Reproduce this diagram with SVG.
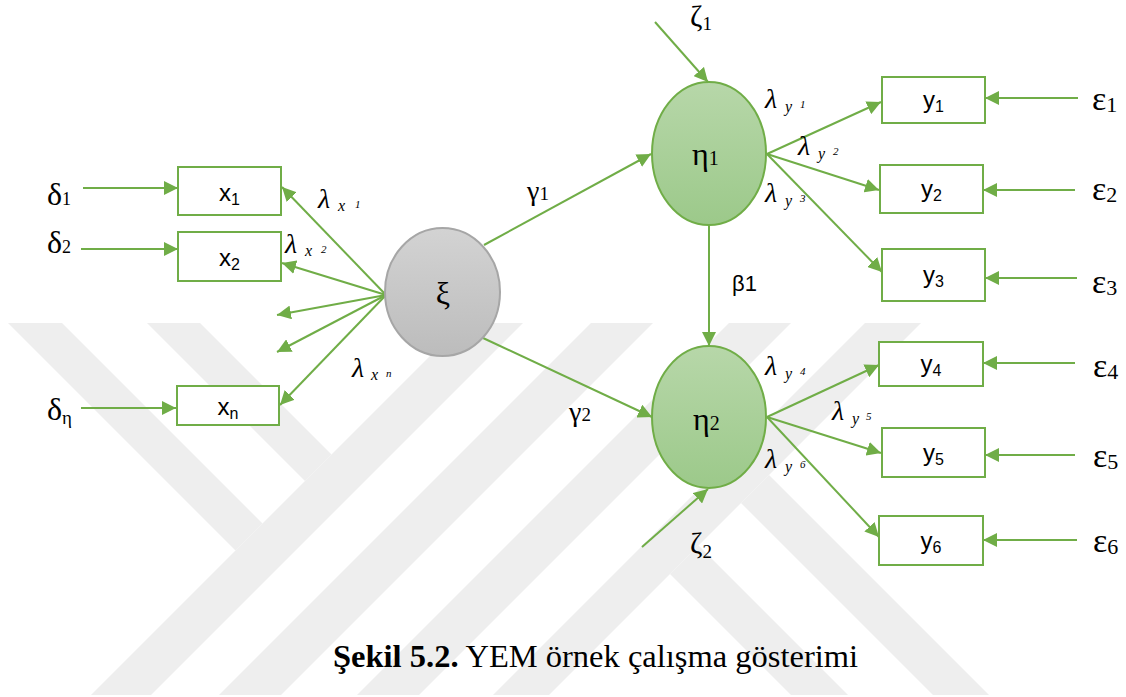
<svg xmlns="http://www.w3.org/2000/svg" width="1126" height="697" viewBox="0 0 1126 697">
  <defs>
    <marker id="arrow" markerUnits="userSpaceOnUse" markerWidth="14" markerHeight="14" refX="14" refY="7" orient="auto">
      <path d="M0,0 L14,7 L0,14 Z" fill="#70ad47"/>
    </marker>
    <linearGradient id="gGreen" x1="0" y1="0" x2="0" y2="1">
      <stop offset="0" stop-color="#b7d7a9"/>
      <stop offset="1" stop-color="#9cc98a"/>
    </linearGradient>
    <linearGradient id="gGrey" x1="0" y1="0" x2="0" y2="1">
      <stop offset="0" stop-color="#d3d3d3"/>
      <stop offset="1" stop-color="#bcbcbc"/>
    </linearGradient>
  </defs>
  <style>
    .wm { fill: #eeeeee; }
    .box { fill: #ffffff; stroke: #70ad47; stroke-width: 2; }
    .edge { fill: none; stroke: #70ad47; stroke-width: 2; marker-end: url(#arrow); }
    .latent { fill: url(#gGreen); stroke: #70ad47; stroke-width: 2; }
    .exo { fill: url(#gGrey); stroke: #a6a6a6; stroke-width: 2; }
  </style>

  <rect width="1126" height="697" fill="#ffffff"/>

  <!-- faint background emblem: diagonal bands -->
  <g id="emblem">
    <polygon class="wm" points="8,323 62,323 262.5,523.5 235.5,550.5"/>
    <polygon class="wm" points="147,323 200,323 331.5,454.5 305,481"/>
    <polygon class="wm" points="463,323 523,323 151,695 91,695"/>
    <polygon class="wm" points="591,323 653,323 281,695 219,695"/>
    <polygon class="wm" points="729,323 791,323 419,695 357,695"/>
    <polygon class="wm" points="865,323 921,323 549,695 493,695"/>
    <polygon class="wm" points="670,574 698.5,545.5 848,695 791,695"/>
    <polygon class="wm" points="741,503 769,475 989,695 933,695"/>
  </g>

  <!-- connectors -->
  <g id="connectors">
    <line class="edge" x1="83" y1="188" x2="178" y2="188"/>
    <line class="edge" x1="81" y1="249" x2="178" y2="249"/>
    <line class="edge" x1="81" y1="408" x2="176" y2="408"/>
    <line class="edge" x1="386" y1="295" x2="282" y2="187"/>
    <line class="edge" x1="386" y1="295" x2="282" y2="263"/>
    <line class="edge" x1="386" y1="295" x2="277" y2="315"/>
    <line class="edge" x1="386" y1="295" x2="277" y2="352"/>
    <line class="edge" x1="386" y1="295" x2="280" y2="405"/>
    <line class="edge" x1="484" y1="245" x2="651" y2="154"/>
    <line class="edge" x1="483" y1="338" x2="652" y2="417"/>
    <line class="edge" x1="709" y1="225" x2="709" y2="346"/>
    <line class="edge" x1="655" y1="22" x2="708" y2="82"/>
    <line class="edge" x1="642" y1="547" x2="708" y2="489"/>
    <line class="edge" x1="767" y1="154" x2="881" y2="102"/>
    <line class="edge" x1="767" y1="154" x2="879" y2="190"/>
    <line class="edge" x1="767" y1="154" x2="882" y2="272"/>
    <line class="edge" x1="767" y1="417" x2="879" y2="365"/>
    <line class="edge" x1="767" y1="417" x2="881" y2="453"/>
    <line class="edge" x1="767" y1="417" x2="879" y2="537"/>
    <line class="edge" x1="1078" y1="98" x2="985" y2="98"/>
    <line class="edge" x1="1075" y1="190" x2="983" y2="190"/>
    <line class="edge" x1="1077" y1="278" x2="985" y2="278"/>
    <line class="edge" x1="1075" y1="363" x2="983" y2="363"/>
    <line class="edge" x1="1075" y1="455" x2="985" y2="455"/>
    <line class="edge" x1="1077" y1="540" x2="983" y2="540"/>
  </g>

  <!-- path coefficients -->
  <g id="edge-labels" font-family="'Liberation Serif', 'DejaVu Serif', serif" fill="#000">
    <g font-style="italic">
      <text x="318" y="208"><tspan font-size="28">λ</tspan><tspan font-size="16" x="338" dy="3">x</tspan><tspan font-size="11" x="355" dy="-3">1</tspan></text>
      <text x="285" y="253"><tspan font-size="28">λ</tspan><tspan font-size="16" x="305" dy="3">x</tspan><tspan font-size="11" x="321" dy="-3">2</tspan></text>
      <text x="352" y="377"><tspan font-size="28">λ</tspan><tspan font-size="16" x="371" dy="3">x</tspan><tspan font-size="11" x="386" dy="-3">n</tspan></text>
      <text x="765" y="108"><tspan font-size="28">λ</tspan><tspan font-size="16" x="785" dy="4">y</tspan><tspan font-size="11" x="800" dy="-4">1</tspan></text>
      <text x="798" y="155"><tspan font-size="28">λ</tspan><tspan font-size="16" x="818" dy="4">y</tspan><tspan font-size="11" x="833" dy="-4">2</tspan></text>
      <text x="765" y="202"><tspan font-size="28">λ</tspan><tspan font-size="16" x="785" dy="4">y</tspan><tspan font-size="11" x="800" dy="-4">3</tspan></text>
      <text x="765" y="375"><tspan font-size="28">λ</tspan><tspan font-size="16" x="785" dy="4">y</tspan><tspan font-size="11" x="800" dy="-4">4</tspan></text>
      <text x="832" y="420"><tspan font-size="28">λ</tspan><tspan font-size="16" x="852" dy="4">y</tspan><tspan font-size="11" x="866" dy="-4">5</tspan></text>
      <text x="765" y="468"><tspan font-size="28">λ</tspan><tspan font-size="16" x="785" dy="4">y</tspan><tspan font-size="11" x="800" dy="-4">6</tspan></text>
    </g>
    <text x="527" y="200"><tspan font-size="28">γ</tspan><tspan font-size="19">1</tspan></text>
    <text x="569" y="421"><tspan font-size="28">γ</tspan><tspan font-size="19">2</tspan></text>
    <text x="732" y="291" font-family="'Liberation Sans', Arial, sans-serif" font-size="22">β1</text>
  </g>

  <!-- measurement and structural error terms -->
  <g id="errors" font-family="'Liberation Serif', 'DejaVu Serif', serif" fill="#000">
    <g id="delta1"><text x="47" y="205"><tspan font-size="32">δ</tspan><tspan font-size="18">1</tspan></text></g>
    <g id="delta2"><text x="47" y="253"><tspan font-size="32">δ</tspan><tspan font-size="18">2</tspan></text></g>
    <g id="deltan"><text x="47" y="420"><tspan font-size="32">δ</tspan><tspan font-size="19" dy="4">η</tspan></text></g>
    <g id="eps1"><text x="1092" y="110"><tspan font-size="34">ε</tspan><tspan font-size="22" dy="2">1</tspan></text></g>
    <g id="eps2"><text x="1092" y="200"><tspan font-size="34">ε</tspan><tspan font-size="22" dy="2">2</tspan></text></g>
    <g id="eps3"><text x="1092" y="293"><tspan font-size="34">ε</tspan><tspan font-size="22" dy="2">3</tspan></text></g>
    <g id="eps4"><text x="1093" y="377"><tspan font-size="34">ε</tspan><tspan font-size="22" dy="2">4</tspan></text></g>
    <g id="eps5"><text x="1093" y="467"><tspan font-size="34">ε</tspan><tspan font-size="22" dy="2">5</tspan></text></g>
    <g id="eps6"><text x="1093" y="552"><tspan font-size="34">ε</tspan><tspan font-size="22" dy="2">6</tspan></text></g>
    <g id="zeta1"><text x="690" y="26"><tspan font-size="30">ζ</tspan><tspan font-size="19" dy="4">1</tspan></text></g>
    <g id="zeta2"><text x="690" y="553"><tspan font-size="30">ζ</tspan><tspan font-size="19" dy="5">2</tspan></text></g>
  </g>

  <!-- observed indicators -->
  <g id="indicators" font-family="'Liberation Sans', Arial, sans-serif" font-size="24" fill="#000" text-anchor="middle">
    <g id="node-x1"><rect class="box" x="178" y="167" width="103" height="48"/><text x="229.5" y="201">x<tspan font-size="16" dy="4">1</tspan></text></g>
    <g id="node-x2"><rect class="box" x="178" y="232" width="103" height="49"/><text x="229.5" y="266">x<tspan font-size="16" dy="4">2</tspan></text></g>
    <g id="node-xn"><rect class="box" x="177" y="386" width="102" height="39"/><text x="228" y="415">x<tspan font-size="16" dy="4">n</tspan></text></g>
    <g id="node-y1"><rect class="box" x="882" y="77" width="103" height="46"/><text x="933.5" y="108">y<tspan font-size="16" dy="4">1</tspan></text></g>
    <g id="node-y2"><rect class="box" x="880" y="165" width="103" height="48"/><text x="931.5" y="197">y<tspan font-size="16" dy="4">2</tspan></text></g>
    <g id="node-y3"><rect class="box" x="882" y="249" width="103" height="52"/><text x="933.5" y="283">y<tspan font-size="16" dy="4">3</tspan></text></g>
    <g id="node-y4"><rect class="box" x="879" y="342" width="104" height="44"/><text x="931" y="372">y<tspan font-size="16" dy="4">4</tspan></text></g>
    <g id="node-y5"><rect class="box" x="882" y="428" width="103" height="49"/><text x="933.5" y="461">y<tspan font-size="16" dy="4">5</tspan></text></g>
    <g id="node-y6"><rect class="box" x="879" y="516" width="104" height="49"/><text x="931" y="549">y<tspan font-size="16" dy="4">6</tspan></text></g>
  </g>

  <!-- latent variables -->
  <g id="latents" font-family="'Liberation Serif', 'DejaVu Serif', serif" fill="#000">
    <g id="node-xi"><ellipse class="exo" cx="442.5" cy="292" rx="57.5" ry="64"/><text x="443" y="304" font-size="32" text-anchor="middle">ξ</text></g>
    <g id="node-eta1"><ellipse class="latent" cx="709" cy="153.5" rx="57" ry="71.5"/><text x="692" y="165"><tspan font-size="32">η</tspan><tspan font-size="20">1</tspan></text></g>
    <g id="node-eta2"><ellipse class="latent" cx="709" cy="417" rx="57" ry="71"/><text x="693" y="430"><tspan font-size="32">η</tspan><tspan font-size="20">2</tspan></text></g>
  </g>

  <!-- caption -->
  <text x="333" y="667" font-family="'Liberation Serif', 'DejaVu Serif', serif" font-size="32.5" fill="#000"><tspan font-weight="bold">Şekil 5.2.</tspan> YEM örnek çalışma gösterimi</text>
</svg>
